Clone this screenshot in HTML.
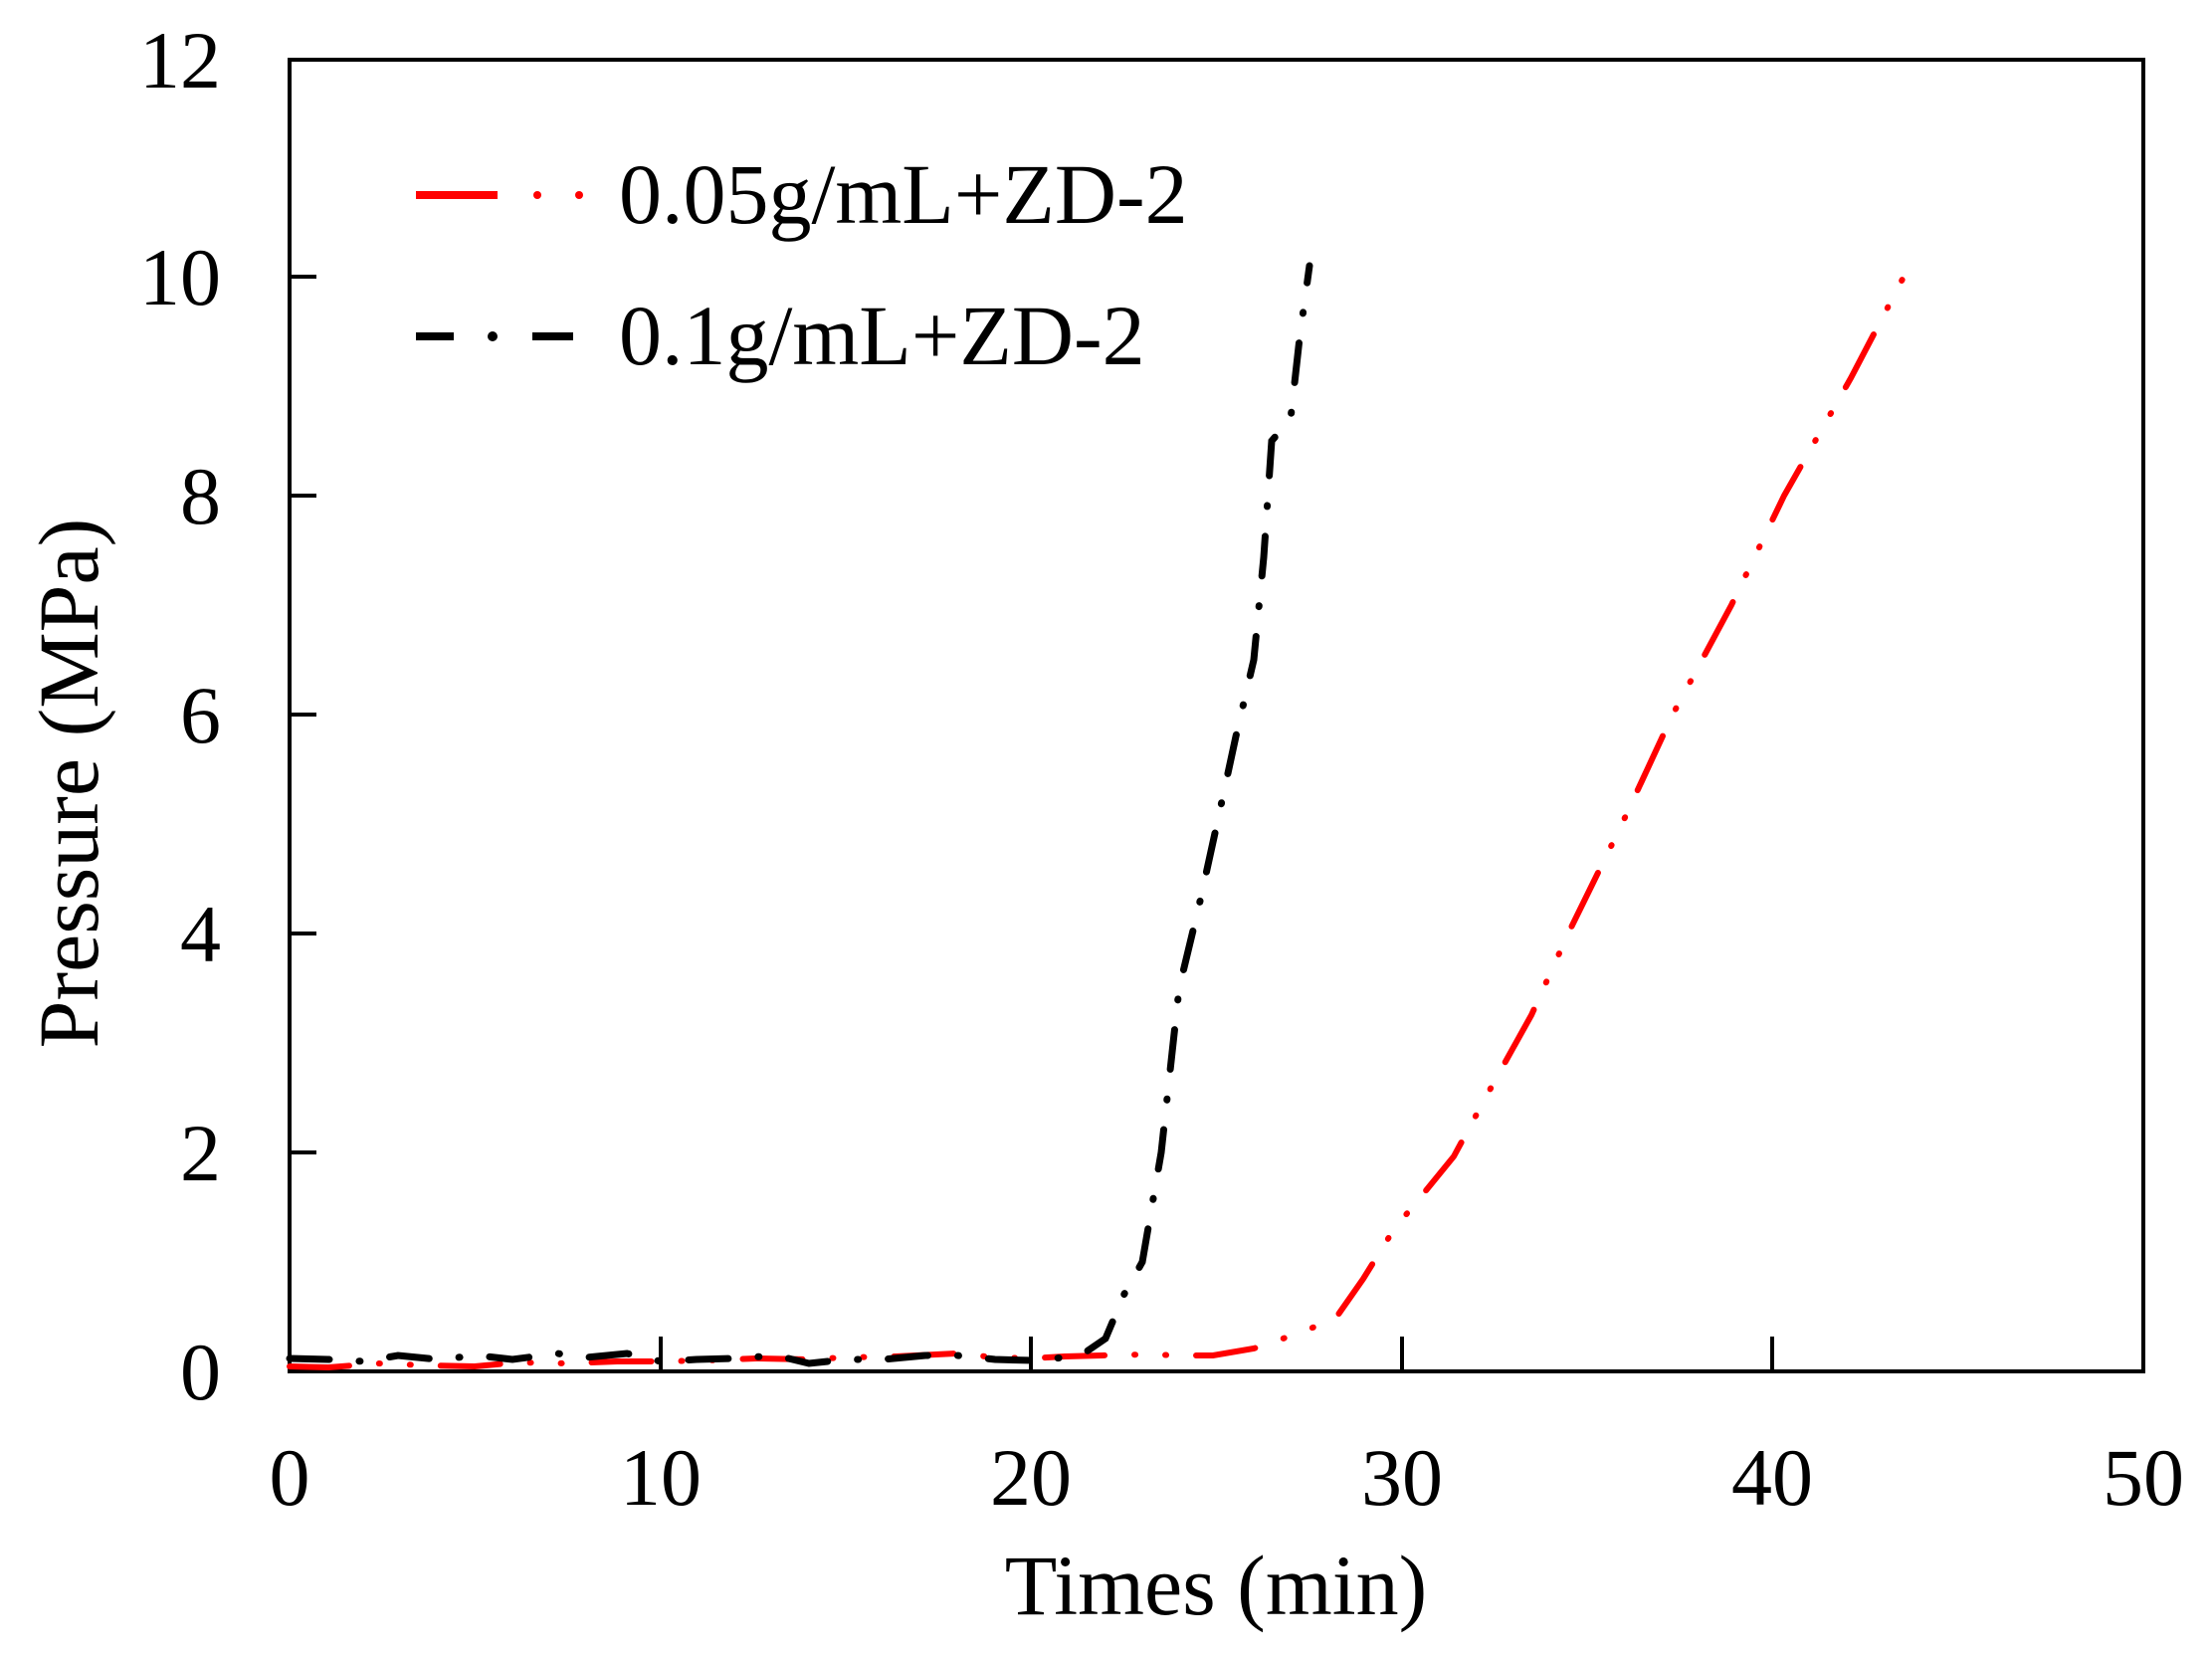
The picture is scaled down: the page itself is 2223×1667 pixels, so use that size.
<!DOCTYPE html>
<html><head><meta charset="utf-8"><style>
html,body{margin:0;padding:0;background:#fff;}
svg{display:block;}
text{font-family:"Liberation Serif",serif;fill:#000;}
</style></head><body>
<svg width="2223" height="1667" viewBox="0 0 2223 1667" xmlns="http://www.w3.org/2000/svg">
<rect width="2223" height="1667" fill="#fff"/>
<rect x="291" y="60" width="1863" height="1318" fill="none" stroke="#000" stroke-width="4"/>
<g stroke="#000" stroke-width="4">
<line x1="291" y1="1158" x2="318" y2="1158"/>
<line x1="291" y1="938" x2="318" y2="938"/>
<line x1="291" y1="718" x2="318" y2="718"/>
<line x1="291" y1="498" x2="318" y2="498"/>
<line x1="291" y1="278" x2="318" y2="278"/>
<line x1="664" y1="1378" x2="664" y2="1343"/>
<line x1="1036" y1="1378" x2="1036" y2="1343"/>
<line x1="1409" y1="1378" x2="1409" y2="1343"/>
<line x1="1781" y1="1378" x2="1781" y2="1343"/>
</g>
<g font-size="82" text-anchor="end">
<text x="222" y="1406">0</text>
<text x="222" y="1186">2</text>
<text x="222" y="966">4</text>
<text x="222" y="746">6</text>
<text x="222" y="526">8</text>
<text x="222" y="306">10</text>
<text x="222" y="88">12</text>
</g>
<g font-size="82" text-anchor="middle">
<text x="291" y="1512">0</text>
<text x="664" y="1512">10</text>
<text x="1036" y="1512">20</text>
<text x="1409" y="1512">30</text>
<text x="1781" y="1512">40</text>
<text x="2154" y="1512">50</text>
</g>
<text x="1222" y="1622" font-size="86" text-anchor="middle">Times (min)</text>
<text transform="translate(98,787) rotate(-90)" font-size="86" text-anchor="middle">Pressure (MPa)</text>
<line x1="418" y1="196" x2="500" y2="196" stroke="#ff0000" stroke-width="8"/>
<circle cx="540" cy="196" r="4" fill="#ff0000"/>
<circle cx="582" cy="196" r="4" fill="#ff0000"/>
<text x="622" y="224" font-size="86">0.05g/mL+ZD-2</text>
<line x1="418" y1="338" x2="456" y2="338" stroke="#000" stroke-width="8"/>
<circle cx="495" cy="338" r="5" fill="#000"/>
<line x1="535" y1="338" x2="576" y2="338" stroke="#000" stroke-width="8"/>
<text x="622" y="366" font-size="86">0.1g/mL+ZD-2</text>
<polyline fill="none" stroke="#ff0000" stroke-width="6" stroke-linecap="round" stroke-dasharray="60 30 1 30 1 30"
points="291,1373 330,1374 380,1370 430,1372 477,1373 520,1369 570,1370 620,1368 664,1368 710,1367 760,1365 810,1366 850,1364 900,1363 962,1360 1000,1364 1036,1365 1070,1363 1107,1362 1150,1361 1190,1362 1219,1362 1260,1355 1304,1340 1342,1325 1370,1285 1401,1235 1430,1200 1461,1162 1500,1090 1539,1020 1576,938 1630,828 1681,718 1740,608 1793,498 1860,380 1919,267"/>
<polyline fill="none" stroke="#000" stroke-width="7" stroke-linecap="round" stroke-dasharray="40 30 1 30"
points="291,1365 330,1366 366,1368 400,1362 440,1366 480,1362 515,1366 560,1360 589,1364 630,1360 664,1368 700,1366 738,1365 780,1362 813,1370 850,1366 887,1366 930,1362 962,1362 1000,1366 1036,1367 1070,1364 1092,1358 1111,1345 1130,1300 1148,1268 1167,1158 1185,993 1205,910 1223,828 1242,740 1260,663 1270,560 1278,443 1297,421 1306,340 1316,267"/>
</svg>
</body></html>
